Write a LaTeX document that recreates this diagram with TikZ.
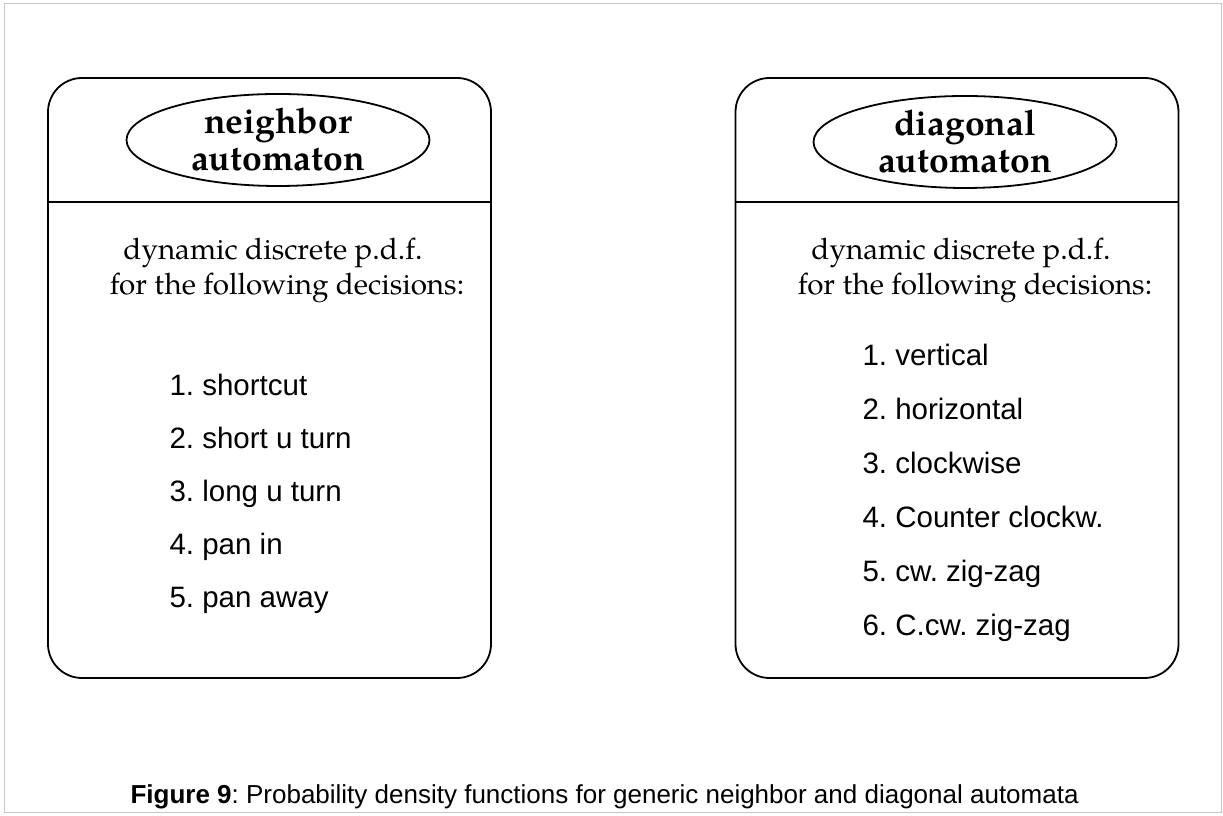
\documentclass[tikz,border=0pt]{standalone}
\usepackage{fontspec}
\setmainfont{TeX Gyre Pagella}
\setsansfont{Liberation Sans}
\usetikzlibrary{shapes.geometric}
\frenchspacing

\tikzset{
  panel/.style={draw,line width=1.8pt,rounded corners=34pt,minimum width=443pt,minimum height=600pt,inner sep=0pt},
  title/.style={ellipse,draw,line width=1.8pt,minimum width=303pt,minimum height=92pt,inner sep=0pt,align=center,font=\fontsize{35.5}{37}\selectfont\bfseries},
  pdftext/.style={anchor=base,font=\fontsize{29.6}{35}\selectfont},
  choice/.style={anchor=base west,font=\sffamily\fontsize{29.5}{35}\selectfont},
}

\begin{document}
\begin{tikzpicture}[x=1pt,y=1pt]
\useasboundingbox (0,0) rectangle (1223,816);
\draw[gray!45,line width=1pt] (4,3) rectangle (1221,812);
% neighbor automaton
\node[panel] (boxL) at (269.5,438) {};
\draw[line width=1.8pt] (boxL.west |- 0,614)--(boxL.east |- 0,614);
\node[title] (ellL) at (278,676) {neighbor\\automaton};
\node[pdftext] (pdfL1) at (273,556) {dynamic discrete p.d.f.};
\node[pdftext] (pdfL2) at (287,521) {for the following decisions:};
\foreach \t [count=\i] in {shortcut,short u turn,long u turn,pan in,pan away}
  \node[choice] (decL\i) at (166,{474-53.2*\i}) {\i. \t};
% diagonal automaton
\node[panel] (boxR) at (957,438) {};
\draw[line width=1.8pt] (boxR.west |- 0,614)--(boxR.east |- 0,614);
\node[title] (ellR) at (965,674) {diagonal\\automaton};
\node[pdftext] (pdfR1) at (961,556) {dynamic discrete p.d.f.};
\node[pdftext] (pdfR2) at (975,521) {for the following decisions:};
\foreach \t [count=\i] in {vertical,horizontal,clockwise,Counter clockw.,cw. zig-zag,C.cw. zig-zag}
  \node[choice] (decR\i) at (859,{504-54*\i}) {\i. \t};
% caption
\node[anchor=base west,font=\sffamily\fontsize{26}{30}\selectfont] (cap) at (127,12)
  {\textbf{Figure 9}: Probability density functions for generic neighbor and diagonal automata};
\end{tikzpicture}
\end{document}
